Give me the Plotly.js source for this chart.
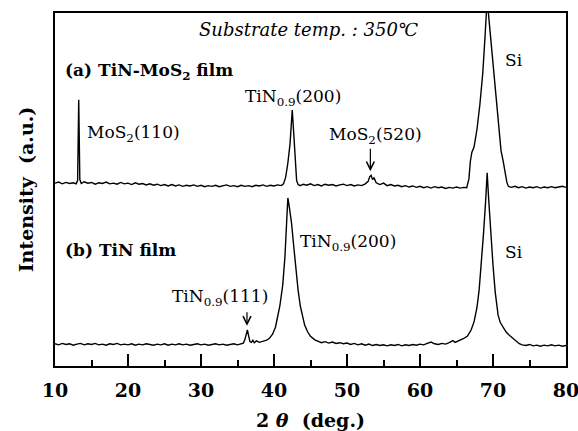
<!DOCTYPE html>
<html>
<head>
<meta charset="utf-8">
<script src="https://cdn.plot.ly/plotly-3.0.1.min.js"></script>
<style>html,body{margin:0;padding:0;background:#fff;}#chart{width:578px;height:431px;}</style>
</head>
<body>
<div id="chart"></div>
<script>
// (a) TiN-MoS2 film (offset upward)
const twoThetaA = [10.0,10.5,11.0,11.5,12.0,12.5,12.9,13.1,13.25,13.4,13.6,14.0,14.5,15.0,15.5,16.0,16.5,17.0,17.5,18.0,18.5,19.0,19.5,20.0,20.5,21.0,21.5,22.0,22.5,23.0,23.5,24.0,24.5,25.0,25.5,26.0,26.5,27.0,27.5,28.0,28.5,29.0,29.5,30.0,30.5,31.0,31.5,32.0,32.5,33.0,33.5,34.0,34.5,35.0,35.5,36.0,36.5,37.0,37.5,38.0,38.5,39.0,39.5,40.0,40.5,41.0,41.3,41.6,41.9,42.2,42.5,42.7,42.9,43.1,43.3,43.6,44.0,44.5,45.0,45.5,46.0,46.5,47.0,47.5,48.0,48.5,49.0,49.5,50.0,50.5,51.0,51.5,52.0,52.5,52.9,53.1,53.3,53.5,53.7,54.0,54.5,55.0,55.5,56.0,56.5,57.0,57.5,58.0,58.5,59.0,59.5,60.0,60.5,61.0,61.5,62.0,62.5,63.0,63.5,64.0,64.5,65.0,65.5,66.0,66.4,66.7,66.9,67.1,67.4,67.8,68.2,68.6,68.9,69.2,69.5,69.9,70.2,70.5,70.8,71.1,71.4,71.7,71.9,72.1,72.5,73.0,73.5,74.0,74.5,75.0,75.5,76.0,76.5,77.0,77.5,78.0,78.5,79.0,79.5,80.0];
const intensityA = [51.8,52.1,51.6,52.0,51.7,51.9,51.6,52.6,75.4,52.8,51.7,52.2,51.8,52.0,51.5,51.9,51.7,52.1,51.6,51.8,51.5,52.0,51.6,51.8,51.4,51.9,51.5,51.7,51.3,51.6,51.2,51.5,51.1,51.4,51.0,51.4,51.0,51.3,50.9,51.2,51.0,51.3,50.9,51.2,50.8,51.1,50.9,51.2,50.8,51.0,51.3,50.9,51.1,50.8,51.2,50.9,51.1,50.8,51.2,51.0,51.3,50.9,51.2,51.0,51.3,51.1,51.6,53.5,57.5,63.0,72.5,66.0,57.0,52.5,51.4,51.1,51.5,51.2,51.6,51.1,51.4,51.0,51.5,51.2,51.4,51.0,51.3,51.5,51.1,51.4,51.0,51.3,51.1,51.6,52.3,53.6,54.0,52.8,53.3,51.9,51.4,51.8,51.1,51.4,51.0,51.2,50.8,51.1,50.7,51.0,50.6,50.9,50.5,50.8,50.4,50.8,50.5,50.7,50.3,50.6,50.4,50.7,50.4,50.6,50.5,53.0,58.0,60.5,62.0,67.0,74.0,83.0,93.0,104.0,97.0,88.0,81.0,74.0,67.0,61.0,58.0,54.5,52.0,50.9,50.6,50.9,50.5,50.8,50.4,50.7,50.5,50.8,50.4,50.7,50.5,50.8,50.5,50.7,50.9,50.6];

// (b) TiN film
const twoThetaB = [10.0,10.5,11.0,11.5,12.0,12.5,13.0,13.5,14.0,14.5,15.0,15.5,16.0,16.5,17.0,17.5,18.0,18.5,19.0,19.5,20.0,20.5,21.0,21.5,22.0,22.5,23.0,23.5,24.0,24.5,25.0,25.5,26.0,26.5,27.0,27.5,28.0,28.5,29.0,29.5,30.0,30.5,31.0,31.5,32.0,32.5,33.0,33.5,34.0,34.5,35.0,35.5,35.8,36.0,36.2,36.35,36.5,36.7,36.9,37.1,37.3,37.6,38.0,38.5,39.0,39.4,39.8,40.2,40.5,40.8,41.2,41.5,41.75,41.9,42.1,42.4,42.7,43.0,43.3,43.6,43.9,44.2,44.6,45.0,45.6,46.0,46.5,47.0,47.5,48.0,48.5,49.0,49.5,50.0,50.5,51.0,51.5,52.0,52.5,53.0,53.5,54.0,54.5,55.0,55.5,56.0,56.5,57.0,57.5,58.0,58.5,59.0,59.5,60.0,60.5,61.0,61.5,62.0,62.5,63.0,63.5,64.0,64.5,64.8,65.2,65.6,66.0,66.5,67.0,67.4,67.8,68.1,68.4,68.7,69.0,69.2,69.4,69.7,70.0,70.3,70.7,71.0,71.4,71.8,72.2,72.7,73.2,73.6,74.0,74.5,75.0,75.5,76.0,76.5,77.0,77.5,78.0,78.5,79.0,79.5,80.0];
const intensityB = [6.3,6.0,6.4,6.1,6.3,5.9,6.2,6.4,6.0,6.3,6.1,6.4,6.0,6.2,5.9,6.3,6.1,6.4,6.0,6.2,6.0,6.3,5.9,6.2,6.0,6.3,6.1,5.9,6.2,6.0,6.3,5.9,6.2,6.0,6.3,6.0,6.2,5.9,6.1,6.3,6.0,6.2,5.9,6.1,6.3,6.0,6.2,5.9,6.1,6.3,6.0,6.2,6.5,7.4,9.6,10.2,8.8,6.9,6.7,7.3,6.6,7.1,6.7,6.9,7.3,7.9,9.0,11.0,13.6,17.0,23.0,31.0,41.5,47.6,45.0,40.5,34.0,27.5,21.5,17.0,13.8,11.6,9.7,8.4,7.4,7.0,6.6,6.9,6.5,6.8,6.4,6.6,6.3,6.5,6.1,6.4,6.0,6.3,5.9,6.2,5.8,6.1,5.8,6.0,5.7,6.0,5.8,6.1,5.7,6.0,5.8,6.1,5.9,6.2,6.0,6.4,6.8,6.3,6.1,6.4,6.2,6.6,7.2,6.7,7.0,7.4,7.8,8.5,10.2,12.5,16.5,21.5,28.6,37.5,47.0,54.7,47.5,37.0,28.6,21.0,14.4,12.3,10.8,9.6,8.8,8.0,7.0,6.3,6.0,5.8,6.1,5.7,5.9,5.6,5.9,5.7,6.0,5.7,5.9,5.6,5.8];

const tickVals = [10,20,30,40,50,60,70,80];
const tickLabels = ['10','20','30','40','50','60','70','80'];

const serif = 'DejaVu Serif';
const lineStyle = {color:'#000', width:1.4};

const traces = [
  {x: twoThetaA, y: intensityA, type:'scatter', mode:'lines', line: lineStyle, name:'(a) TiN-MoS2 film', showlegend:false},
  {x: twoThetaB, y: intensityB, type:'scatter', mode:'lines', line: lineStyle, name:'(b) TiN film', showlegend:false}
];

const lab = (x, y, text, opts) => Object.assign({
  x: x, y: y, xref:'x', yref:'y', text: text, showarrow:false,
  xanchor:'left', yanchor:'middle',
  font:{family: serif, size:17, color:'#000'}
}, opts || {});

const annotations = [
  lab(44.7, 95.2, '<i>Substrate temp. : 350℃</i>', {xanchor:'center', font:{family: serif, size:18, color:'#000'}}),
  lab(11.1, 83.3, '<b>(a) TiN-MoS<sub>2</sub> film</b>'),
  lab(14.1, 66.0, 'MoS<sub>2</sub>(110)'),
  lab(35.75, 76.2, 'TiN<sub>0.9</sub>(200)'),
  lab(47.3, 65.4, 'MoS<sub>2</sub>(520)'),
  lab(71.4, 86.7, 'Si'),
  lab(11.1, 32.9, '<b>(b) TiN film</b>'),
  lab(25.75, 19.5, 'TiN<sub>0.9</sub>(111)'),
  lab(43.3, 35.1, 'TiN<sub>0.9</sub>(200)'),
  lab(71.4, 32.3, 'Si'),
  {x:53.2, y:55.2, xref:'x', yref:'y', text:'', showarrow:true, arrowhead:5, arrowsize:1.3, arrowwidth:1.2, arrowcolor:'#000', ax:0, ay:-24},
  {x:36.3, y:11.4, xref:'x', yref:'y', text:'', showarrow:true, arrowhead:5, arrowsize:1.3, arrowwidth:1.2, arrowcolor:'#000', ax:0, ay:-15}
];

const layout = {
  width:578, height:431,
  margin:{l:55, r:12, t:13, b:65},
  paper_bgcolor:'#fff', plot_bgcolor:'#fff',
  showlegend:false,
  font:{family: serif, color:'#000'},
  xaxis:{
    range:[10,80], tickmode:'array', tickvals: tickVals, ticktext: tickLabels,
    ticks:'inside', ticklen:12, tickwidth:2, tickcolor:'#000',
    minor:{dtick:5, tick0:10, ticks:'inside', ticklen:6, tickwidth:2, tickcolor:'#000', showgrid:false},
    showline:true, mirror:true, linecolor:'#000', linewidth:2,
    showgrid:false, zeroline:false,
    ticklabelstandoff:6, ticklabeloverflow:'allow',
    tickfont:{family: serif, size:19, color:'#000', weight:'bold'},
    title:{text:'2 <i>θ</i>  (deg.)', standoff:14, font:{family: serif, size:19, color:'#000', weight:'bold'}}
  },
  yaxis:{
    range:[0,100], showticklabels:false, ticks:'',
    showline:true, mirror:true, linecolor:'#000', linewidth:2,
    showgrid:false, zeroline:false,
    title:{text:'Intensity  (a.u.)', standoff:14, font:{family: serif, size:19, color:'#000', weight:'bold'}}
  },
  annotations: annotations
};

Plotly.newPlot('chart', traces, layout, {displayModeBar:false, staticPlot:true});
</script>
</body>
</html>
